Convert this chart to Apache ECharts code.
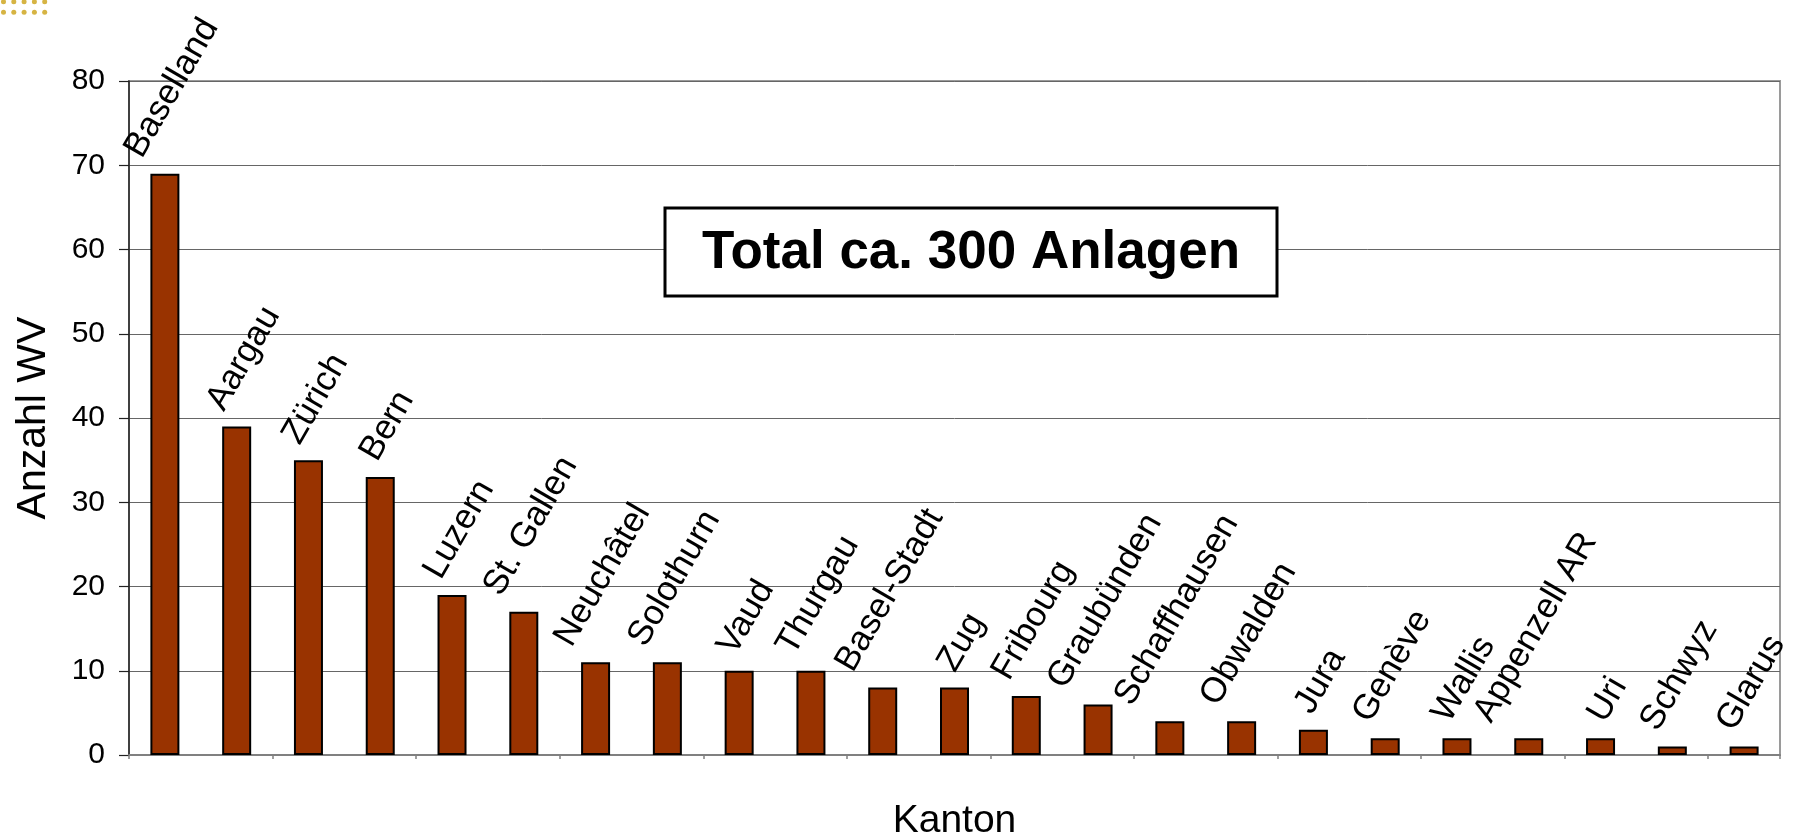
<!DOCTYPE html>
<html><head><meta charset="utf-8">
<script src="https://cdn.jsdelivr.net/npm/echarts@6/dist/echarts.min.js"></script>
<style>html,body{margin:0;padding:0;background:#fff}#c{width:1793px;height:837px}</style>
</head><body><div id="c"></div>
<script>
// ---- data ----
const categories = ['Baselland','Aargau','Zürich','Bern','Luzern','St. Gallen','Neuchâtel','Solothurn','Vaud','Thurgau','Basel-Stadt','Zug','Fribourg','Graubünden','Schaffhausen','Obwalden','Jura','Genève','Wallis','Appenzell AR','Uri','Schwyz','Glarus'];
const anlagen = [69,39,35,33,19,17,11,11,10,10,8,8,7,6,4,4,3,2,2,2,2,1,1];
const yMin = 0, yMax = 80, yInterval = 10;
const yAxisTitle = 'Anzahl WV';
const xAxisTitle = 'Kanton';
const noteText = 'Total ca. 300 Anlagen';

// ---- styling ----
const FONT = '"Liberation Sans", Arial, Helvetica, sans-serif';
const LABEL_SIZE = 35;
const BAR_W = 29;
const ctx = document.createElement('canvas').getContext('2d');
ctx.font = LABEL_SIZE + 'px ' + FONT;
function labelFor(name){
  const L = ctx.measureText(name).width;
  return { position: [BAR_W/2 + 7, -(19 + 0.433*L)] };
}

const dots = [];
[1.8, 12.3].forEach(y => [3.5, 13.8, 24.1, 34.4, 44.7].forEach(x => dots.push({
  type:'circle', shape:{cx:x, cy:y, r:2.5}, style:{fill:'#d6b443'}, silent:true
})));

const chart = echarts.init(document.getElementById('c'), null, {renderer:'canvas'});
chart.setOption({
  animation:false,
  backgroundColor:'#fff',
  textStyle:{fontFamily:FONT},
  grid:{left:129, right:13, top:81, bottom:82, containLabel:false, outerBoundsMode:'none',
    show:true, borderColor:'#9a9a9a', borderWidth:2, backgroundColor:'transparent'},
  xAxis:{
    type:'category', data:categories,
    name:xAxisTitle, nameLocation:'middle', nameGap:47,
    nameTextStyle:{fontSize:39, color:'#000', fontFamily:FONT},
    axisLine:{lineStyle:{color:'#808080', width:2}},
    axisTick:{show:true, length:4, lineStyle:{color:'#808080', width:1.5}},
    axisLabel:{show:false},
    splitLine:{show:false}
  },
  yAxis:{
    type:'value', min:yMin, max:yMax, interval:yInterval,
    name:yAxisTitle, nameLocation:'middle', nameGap:75,
    nameTextStyle:{fontSize:41, color:'#000', fontFamily:FONT},
    axisLine:{show:true, lineStyle:{color:'#222', width:1.5}},
    axisTick:{show:true, length:10, lineStyle:{color:'#222', width:1.2}},
    axisLabel:{fontSize:30, color:'#000', margin:24, fontFamily:FONT},
    splitLine:{show:true, lineStyle:{color:'#666', width:1}}
  },
  series:[{
    type:'bar', barWidth:BAR_W,
    data: anlagen.map((v,i) => ({value:v, label:labelFor(categories[i])})),
    itemStyle:{color:'#993300', borderColor:'#000', borderWidth:2},
    label:{show:true, formatter:'{b}', rotate:60, align:'center', verticalAlign:'middle',
      fontSize:LABEL_SIZE, color:'#000', fontFamily:FONT},
    emphasis:{disabled:true}
  }],
  graphic:[
    ...dots,
    {type:'rect', shape:{x:665, y:208, width:612, height:88}, style:{fill:'#fff', stroke:'#000', lineWidth:3}, z:100},
    {type:'text', x:971, y:253, z:101, style:{text:noteText, align:'center', verticalAlign:'middle',
      font:'bold 53px "Liberation Sans", Arial, sans-serif', fill:'#000'}}
  ]
});
</script>
</body></html>
